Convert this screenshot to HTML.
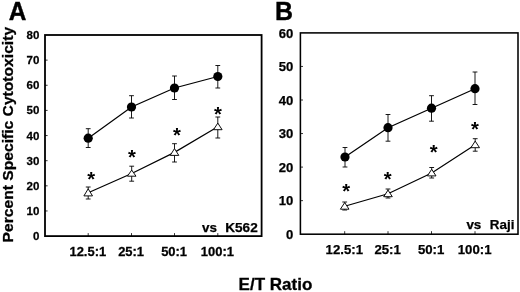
<!DOCTYPE html>
<html><head><meta charset="utf-8"><title>fig</title>
<style>
html,body{margin:0;padding:0;background:#fff;}
body{width:520px;height:292px;overflow:hidden;font-family:"Liberation Sans",sans-serif;}
svg{display:block;filter:blur(0.3px);}
text{font-family:"Liberation Sans",sans-serif;font-weight:bold;fill:#000;stroke:#000;}
</style></head><body>
<svg width="520" height="292" viewBox="0 0 520 292">
<rect width="520" height="292" fill="#fff"/>

<rect x="45" y="35" width="216.60000000000002" height="201.1" fill="none" stroke="#000" stroke-width="1.8"/>
<text transform="translate(39.3,39.0) scale(1.04,1)" font-size="11.1" text-anchor="end" stroke-width="0.25" xml:space="preserve">80</text>
<text transform="translate(39.3,64.14) scale(1.04,1)" font-size="11.1" text-anchor="end" stroke-width="0.25" xml:space="preserve">70</text>
<path d="M45 60.14h2.6" stroke="#000" stroke-width="0.8"/>
<text transform="translate(39.3,89.28) scale(1.04,1)" font-size="11.1" text-anchor="end" stroke-width="0.25" xml:space="preserve">60</text>
<path d="M45 85.28h2.6" stroke="#000" stroke-width="0.8"/>
<text transform="translate(39.3,114.41) scale(1.04,1)" font-size="11.1" text-anchor="end" stroke-width="0.25" xml:space="preserve">50</text>
<path d="M45 110.41h2.6" stroke="#000" stroke-width="0.8"/>
<text transform="translate(39.3,139.55) scale(1.04,1)" font-size="11.1" text-anchor="end" stroke-width="0.25" xml:space="preserve">40</text>
<path d="M45 135.55h2.6" stroke="#000" stroke-width="0.8"/>
<text transform="translate(39.3,164.69) scale(1.04,1)" font-size="11.1" text-anchor="end" stroke-width="0.25" xml:space="preserve">30</text>
<path d="M45 160.69h2.6" stroke="#000" stroke-width="0.8"/>
<text transform="translate(39.3,189.82) scale(1.04,1)" font-size="11.1" text-anchor="end" stroke-width="0.25" xml:space="preserve">20</text>
<path d="M45 185.82h2.6" stroke="#000" stroke-width="0.8"/>
<text transform="translate(39.3,214.96) scale(1.04,1)" font-size="11.1" text-anchor="end" stroke-width="0.25" xml:space="preserve">10</text>
<path d="M45 210.96h2.6" stroke="#000" stroke-width="0.8"/>
<text transform="translate(39.3,240.1) scale(1.04,1)" font-size="11.1" text-anchor="end" stroke-width="0.25" xml:space="preserve">0</text>
<path d="M88.2 236.1v-3" stroke="#000" stroke-width="0.8"/>
<text transform="translate(87.8,255.5) scale(1.07,1)" font-size="12.1" text-anchor="middle" stroke-width="0.25" xml:space="preserve">12.5:1</text>
<path d="M131.5 236.1v-3" stroke="#000" stroke-width="0.8"/>
<text transform="translate(131.1,255.5) scale(1.07,1)" font-size="12.1" text-anchor="middle" stroke-width="0.25" xml:space="preserve">25:1</text>
<path d="M174.5 236.1v-3" stroke="#000" stroke-width="0.8"/>
<text transform="translate(174.1,255.5) scale(1.07,1)" font-size="12.1" text-anchor="middle" stroke-width="0.25" xml:space="preserve">50:1</text>
<path d="M217.8 236.1v-3" stroke="#000" stroke-width="0.8"/>
<text transform="translate(217.4,255.5) scale(1.07,1)" font-size="12.1" text-anchor="middle" stroke-width="0.25" xml:space="preserve">100:1</text>
<polyline points="88.2,138.2 131.5,107 174.5,88 217.8,76.5" fill="none" stroke="#000" stroke-width="1.25"/>
<path d="M88.2 128.7V147.5M85.8 128.7H90.60000000000001M85.8 147.5H90.60000000000001" stroke="#000" stroke-width="0.9" fill="none"/>
<circle cx="88.2" cy="138.2" r="4.6" fill="#000"/>
<path d="M131.5 95.7V118M129.1 95.7H133.9M129.1 118H133.9" stroke="#000" stroke-width="0.9" fill="none"/>
<circle cx="131.5" cy="107" r="4.6" fill="#000"/>
<path d="M174.5 76V99.5M172.1 76H176.9M172.1 99.5H176.9" stroke="#000" stroke-width="0.9" fill="none"/>
<circle cx="174.5" cy="88" r="4.6" fill="#000"/>
<path d="M217.8 65.5V88M215.4 65.5H220.20000000000002M215.4 88H220.20000000000002" stroke="#000" stroke-width="0.9" fill="none"/>
<circle cx="217.8" cy="76.5" r="4.6" fill="#000"/>
<polyline points="88.2,192.7 131.7,173.5 174.5,152.35 217.8,126.75" fill="none" stroke="#000" stroke-width="1.2"/>
<path d="M88.2 187V199M85.8 187H90.60000000000001M85.8 199H90.60000000000001" stroke="#000" stroke-width="0.9" fill="none"/>
<path d="M88.2 188.80L92.5 195.90H83.9Z" fill="#fff" stroke="#000" stroke-width="0.95"/>
<path d="M131.7 166.2V181.2M129.29999999999998 166.2H134.1M129.29999999999998 181.2H134.1" stroke="#000" stroke-width="0.9" fill="none"/>
<path d="M131.7 170.10L136.0 176.20H127.39999999999999Z" fill="#fff" stroke="#000" stroke-width="0.95"/>
<path d="M174.5 143.7V162M172.1 143.7H176.9M172.1 162H176.9" stroke="#000" stroke-width="0.9" fill="none"/>
<path d="M174.5 148.60L178.8 155.40H170.2Z" fill="#fff" stroke="#000" stroke-width="0.95"/>
<path d="M217.8 117V138M215.4 117H220.20000000000002M215.4 138H220.20000000000002" stroke="#000" stroke-width="0.9" fill="none"/>
<path d="M217.8 123.10L222.10000000000002 129.70H213.5Z" fill="#fff" stroke="#000" stroke-width="0.95"/>
<text transform="translate(91.2,186.3) scale(1,1)" font-size="20.2" text-anchor="middle" stroke-width="0" xml:space="preserve">*</text>
<text transform="translate(132,164.0) scale(1,1)" font-size="20.2" text-anchor="middle" stroke-width="0" xml:space="preserve">*</text>
<text transform="translate(177,141.8) scale(1,1)" font-size="20.2" text-anchor="middle" stroke-width="0" xml:space="preserve">*</text>
<text transform="translate(218,121.0) scale(1,1)" font-size="20.2" text-anchor="middle" stroke-width="0" xml:space="preserve">*</text>
<text transform="translate(202.1,232.2) scale(1,1)" font-size="13.4" text-anchor="start" stroke-width="0.25" xml:space="preserve">vs</text>
<text transform="translate(257.7,232.2) scale(1,1)" font-size="13.6" text-anchor="end" stroke-width="0.25" xml:space="preserve">K562</text>
<text transform="translate(8.8,19.8) scale(0.95,1)" font-size="25.7" text-anchor="start" stroke-width="0.4" xml:space="preserve">A</text>
<text font-size="15.65" stroke-width="0.3" transform="translate(12.8,242.4) rotate(-90) scale(1,0.95)">Percent Specific Cytotoxicity</text>
<rect x="300.4" y="32.9" width="217.60000000000002" height="201.29999999999998" fill="none" stroke="#000" stroke-width="1.55"/>
<text transform="translate(293.3,37.5) scale(1,1)" font-size="13.1" text-anchor="end" stroke-width="0.25" xml:space="preserve">60</text>
<text transform="translate(293.3,71.05) scale(1,1)" font-size="13.1" text-anchor="end" stroke-width="0.25" xml:space="preserve">50</text>
<path d="M300.4 66.45h2.6" stroke="#000" stroke-width="0.8"/>
<text transform="translate(293.3,104.6) scale(1,1)" font-size="13.1" text-anchor="end" stroke-width="0.25" xml:space="preserve">40</text>
<path d="M300.4 100.00h2.6" stroke="#000" stroke-width="0.8"/>
<text transform="translate(293.3,138.15) scale(1,1)" font-size="13.1" text-anchor="end" stroke-width="0.25" xml:space="preserve">30</text>
<path d="M300.4 133.55h2.6" stroke="#000" stroke-width="0.8"/>
<text transform="translate(293.3,171.7) scale(1,1)" font-size="13.1" text-anchor="end" stroke-width="0.25" xml:space="preserve">20</text>
<path d="M300.4 167.10h2.6" stroke="#000" stroke-width="0.8"/>
<text transform="translate(293.3,205.25) scale(1,1)" font-size="13.1" text-anchor="end" stroke-width="0.25" xml:space="preserve">10</text>
<path d="M300.4 200.65h2.6" stroke="#000" stroke-width="0.8"/>
<text transform="translate(293.3,238.8) scale(1,1)" font-size="13.1" text-anchor="end" stroke-width="0.25" xml:space="preserve">0</text>
<path d="M344.7 234.2v-3" stroke="#000" stroke-width="0.8"/>
<text transform="translate(344.3,254.4) scale(1,1)" font-size="13.2" text-anchor="middle" stroke-width="0.25" xml:space="preserve">12.5:1</text>
<path d="M388 234.2v-3" stroke="#000" stroke-width="0.8"/>
<text transform="translate(387.6,254.4) scale(1,1)" font-size="13.2" text-anchor="middle" stroke-width="0.25" xml:space="preserve">25:1</text>
<path d="M431.5 234.2v-3" stroke="#000" stroke-width="0.8"/>
<text transform="translate(431.1,254.4) scale(1,1)" font-size="13.2" text-anchor="middle" stroke-width="0.25" xml:space="preserve">50:1</text>
<path d="M475 234.2v-3" stroke="#000" stroke-width="0.8"/>
<text transform="translate(474.6,254.4) scale(1,1)" font-size="13.2" text-anchor="middle" stroke-width="0.25" xml:space="preserve">100:1</text>
<polyline points="345,157 388,127.7 431.5,108.2 475,88.7" fill="none" stroke="#000" stroke-width="1.25"/>
<path d="M345 147.5V167M342.6 147.5H347.4M342.6 167H347.4" stroke="#000" stroke-width="0.9" fill="none"/>
<circle cx="345" cy="157" r="4.6" fill="#000"/>
<path d="M388 114.5V141.2M385.6 114.5H390.4M385.6 141.2H390.4" stroke="#000" stroke-width="0.9" fill="none"/>
<circle cx="388" cy="127.7" r="4.6" fill="#000"/>
<path d="M431.5 95.7V121.2M429.1 95.7H433.9M429.1 121.2H433.9" stroke="#000" stroke-width="0.9" fill="none"/>
<circle cx="431.5" cy="108.2" r="4.6" fill="#000"/>
<path d="M475 72V104.5M472.6 72H477.4M472.6 104.5H477.4" stroke="#000" stroke-width="0.9" fill="none"/>
<circle cx="475" cy="88.7" r="4.6" fill="#000"/>
<polyline points="344.7,206.25 388,193.75 431.7,172.95 475.2,144.75" fill="none" stroke="#000" stroke-width="1.2"/>
<path d="M344.7 202V210M342.3 202H347.09999999999997M342.3 210H347.09999999999997" stroke="#000" stroke-width="0.9" fill="none"/>
<path d="M344.7 202.60L349.0 209.20H340.4Z" fill="#fff" stroke="#000" stroke-width="0.95"/>
<path d="M388 189V198M385.6 189H390.4M385.6 198H390.4" stroke="#000" stroke-width="0.9" fill="none"/>
<path d="M388 190.10L392.3 196.70H383.7Z" fill="#fff" stroke="#000" stroke-width="0.95"/>
<path d="M431.7 167.5V178M429.3 167.5H434.09999999999997M429.3 178H434.09999999999997" stroke="#000" stroke-width="0.9" fill="none"/>
<path d="M431.7 169.30L436.0 175.90H427.4Z" fill="#fff" stroke="#000" stroke-width="0.95"/>
<path d="M475.2 138.7V151.2M472.8 138.7H477.59999999999997M472.8 151.2H477.59999999999997" stroke="#000" stroke-width="0.9" fill="none"/>
<path d="M475.2 141.10L479.5 147.70H470.9Z" fill="#fff" stroke="#000" stroke-width="0.95"/>
<text transform="translate(346.2,197.8) scale(1,1)" font-size="20.2" text-anchor="middle" stroke-width="0" xml:space="preserve">*</text>
<text transform="translate(387.7,185.8) scale(1,1)" font-size="20.2" text-anchor="middle" stroke-width="0" xml:space="preserve">*</text>
<text transform="translate(433.7,158.8) scale(1,1)" font-size="20.2" text-anchor="middle" stroke-width="0" xml:space="preserve">*</text>
<text transform="translate(475,135.8) scale(1,1)" font-size="20.2" text-anchor="middle" stroke-width="0" xml:space="preserve">*</text>
<text transform="translate(466.4,228.6) scale(1,1)" font-size="13.4" text-anchor="start" stroke-width="0.25" xml:space="preserve">vs</text>
<text transform="translate(514.4,228.6) scale(1,1)" font-size="13.4" text-anchor="end" stroke-width="0.25" xml:space="preserve">Raji</text>
<text transform="translate(274.9,19.8) scale(0.97,1)" font-size="25.7" text-anchor="start" stroke-width="0.4" xml:space="preserve">B</text>
<text transform="translate(238.6,290.1) scale(1,1)" font-size="17" text-anchor="start" stroke-width="0.3" xml:space="preserve">E/T Ratio</text>
</svg></body></html>
